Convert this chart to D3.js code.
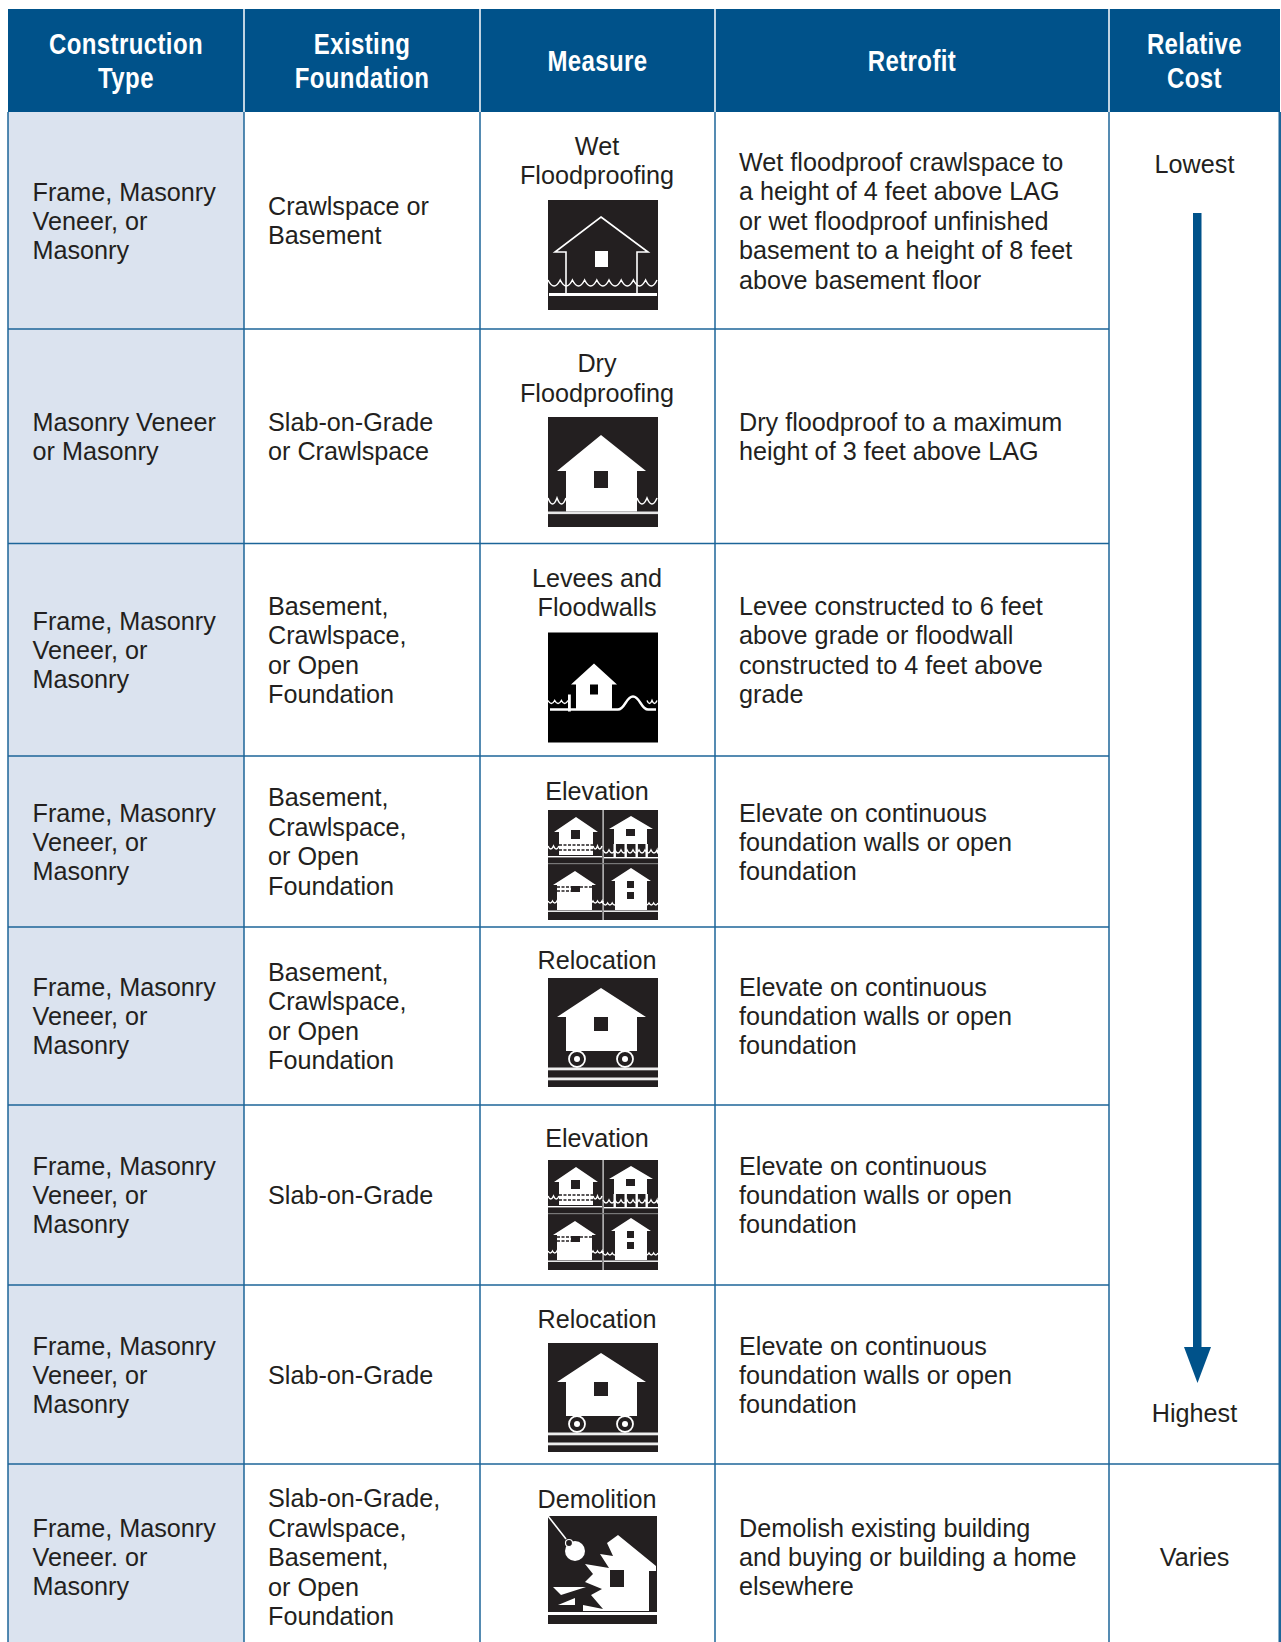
<!DOCTYPE html>
<html>
<head>
<meta charset="utf-8">
<script src="https://d3js.org/d3.v7.min.js"></script>
<style>
html, body { margin: 0; padding: 0; background: #fff; overflow: hidden; }
svg { display: block; }
text { font-family: "Liberation Sans", Arial, sans-serif; font-size: 25.2px; fill: #231f20; }
.head { font-weight: bold; font-size: 30px; fill: #fff; letter-spacing: 0.5px; }
</style>
</head>
<body>
<div id="chart"></div>
<script>
// table content
var headers = [["Construction", "Type"], ["Existing", "Foundation"], ["Measure"], ["Retrofit"], ["Relative", "Cost"]]

var constructionType = [
    ["Frame, Masonry", "Veneer, or", "Masonry"],
    ["Masonry Veneer", "or Masonry"],
    ["Frame, Masonry", "Veneer, or", "Masonry"],
    ["Frame, Masonry", "Veneer, or", "Masonry"],
    ["Frame, Masonry", "Veneer, or", "Masonry"],
    ["Frame, Masonry", "Veneer, or", "Masonry"],
    ["Frame, Masonry", "Veneer, or", "Masonry"],
    ["Frame, Masonry", "Veneer. or", "Masonry"]
]
var foundation = [
    ["Crawlspace or", "Basement"],
    ["Slab-on-Grade", "or Crawlspace"],
    ["Basement,", "Crawlspace,", "or Open", "Foundation"],
    ["Basement,", "Crawlspace,", "or Open", "Foundation"],
    ["Basement,", "Crawlspace,", "or Open", "Foundation"],
    ["Slab-on-Grade"],
    ["Slab-on-Grade"],
    ["Slab-on-Grade,", "Crawlspace,", "Basement,", "or Open", "Foundation"]
]
var measure = [
    ["Wet", "Floodproofing"],
    ["Dry", "Floodproofing"],
    ["Levees and", "Floodwalls"],
    ["Elevation"],
    ["Relocation"],
    ["Elevation"],
    ["Relocation"],
    ["Demolition"]
]
var icons = ["wet", "dry", "levee", "elevation", "relocation", "elevation", "relocation", "demolition"]
var retrofit = [
    ["Wet floodproof crawlspace to", "a height of 4 feet above LAG", "or wet floodproof unfinished", "basement to a height of 8 feet", "above basement floor"],
    ["Dry floodproof to a maximum", "height of 3 feet above LAG"],
    ["Levee constructed to 6 feet", "above grade or floodwall", "constructed to 4 feet above", "grade"],
    ["Elevate on continuous", "foundation walls or open", "foundation"],
    ["Elevate on continuous", "foundation walls or open", "foundation"],
    ["Elevate on continuous", "foundation walls or open", "foundation"],
    ["Elevate on continuous", "foundation walls or open", "foundation"],
    ["Demolish existing building", "and buying or building a home", "elsewhere"]
]

// layout of the table
var width = 1281
var height = 1642
var colEdges = [8, 244, 480, 715, 1109, 1280]
var rowEdges = [112, 329, 543.5, 756, 927, 1105, 1285, 1464, 1660]
var iconTops = [200, 417, 632.5, 810, 978, 1160, 1343, 1516]
var labelBottoms = [175, 392.5, 607, 790.5, 960, 1138, 1319, 1498.5]
var lineHeight = 29.5

var blue = "#00528a"
var rule = "#1c6599"
var ink = "#231f20"

var x = d3.scaleOrdinal().domain(d3.range(colEdges.length)).range(colEdges)
var y = d3.scaleOrdinal().domain(d3.range(rowEdges.length)).range(rowEdges)

var svg = d3.select("#chart").append("svg")
    .attr("width", width)
    .attr("height", height)

// header band and first column shading
svg.append("rect").attr("x", x(0)).attr("y", 9).attr("width", x(5) - x(0)).attr("height", y(0) - 9).attr("fill", blue)
svg.append("rect").attr("x", x(0)).attr("y", y(0)).attr("width", x(1) - x(0)).attr("height", height - y(0)).attr("fill", "#dbe3ef")

// header dividers
svg.selectAll(".headRule").data([1, 2, 3, 4]).enter().append("line")
    .attr("x1", d => x(d)).attr("x2", d => x(d))
    .attr("y1", 9).attr("y2", y(0))
    .attr("stroke", "#fff").attr("stroke-width", 1.5)

// body rules
svg.selectAll(".colRule").data([0, 1, 2, 3, 4, 5]).enter().append("line")
    .attr("x1", d => x(d)).attr("x2", d => x(d))
    .attr("y1", y(0)).attr("y2", height)
    .attr("stroke", rule)
    .attr("stroke-width", d => (d == 5 ? 3 : 1.5))
svg.selectAll(".rowRule").data(d3.range(1, 8)).enter().append("line")
    .attr("x1", x(0))
    .attr("x2", d => (d == 7 ? x(5) : x(4)))
    .attr("y1", d => y(d)).attr("y2", d => y(d))
    .attr("stroke", rule).attr("stroke-width", 1.5)

// draw a few lines of text centered on cy
function block(lines, tx, cy, anchor) {
    // three line cells are set a touch tighter in the original
    var lh = lines.length == 3 ? 29 : lineHeight
    var t = svg.append("text").attr("text-anchor", anchor)
    lines.forEach(function(l, i) {
        t.append("tspan")
            .attr("x", tx)
            .attr("y", cy + (i - (lines.length - 1) / 2) * lh)
            .attr("dy", "0.36em")
            .text(l)
    })
}

// the header face is condensed, so squeeze each line sideways
function headBlock(lines, tx, cy) {
    lines.forEach(function(l, i) {
        svg.append("text")
            .attr("class", "head")
            .attr("text-anchor", "middle")
            .attr("dy", "0.36em")
            .attr("transform", "translate(" + tx + "," + (cy + (i - (lines.length - 1) / 2) * 33.5) + ") scale(0.8,1)")
            .text(l)
    })
}

headers.forEach(function(h, i) {
    headBlock(h, (x(i) + x(i + 1)) / 2, 60)
})

d3.range(8).forEach(function(i) {
    var cy = (y(i) + y(i + 1)) / 2
    if (i == 7) cy = 1557
    block(constructionType[i], 32.5, cy + 0.4, "start")
    block(foundation[i], 268, cy, "start")
    block(retrofit[i], 739, cy + 0.4, "start")
    // measure label sits right above its icon
    block(measure[i], 597, labelBottoms[i] - (measure[i].length - 1) * lineHeight / 2, "middle")
    drawIcon(icons[i], svg.append("g").attr("transform", "translate(548," + iconTops[i] + ")"))
})

// relative cost column
block(["Lowest"], 1194.5, 163.5, "middle")
block(["Highest"], 1194.5, 1412.5, "middle")
block(["Varies"], 1194.5, 1556.5, "middle")

svg.append("rect").attr("x", 1193).attr("y", 213).attr("width", 8.5).attr("height", 1140).attr("fill", blue)
svg.append("path").attr("d", "M1184,1347L1211,1347L1197.5,1383Z").attr("fill", blue)

// ---- icons, 110 units square, white on black ----
function waves(x0, x1, yTop, dep, period) {
    var p = d3.path()
    p.moveTo(x0, yTop)
    for (var a = x0; a < x1 - 0.1; a += period) {
        var b = Math.min(a + period, x1)
        p.quadraticCurveTo((a + b) / 2, yTop + dep * 2, b, yTop)
    }
    return p.toString()
}

function waveLine(g, x0, x1, yTop, dep, period, sw) {
    g.append("path").attr("d", waves(x0, x1, yTop, dep, period))
        .attr("fill", "none").attr("stroke", "#fff").attr("stroke-width", sw || 1.5)
}

function poly(g, pts, fill) {
    return g.append("path").attr("d", d3.line()(pts) + "Z").attr("fill", fill || "#fff")
}

function box(g, bx, by, w, h, fill) {
    g.append("rect").attr("x", bx).attr("y", by).attr("width", w).attr("height", h).attr("fill", fill || "#fff")
}

function house(apex, eaveL, eaveR, wallL, wallR, eaveY, bottom) {
    return [[apex[0], apex[1]], [eaveR, eaveY], [wallR, eaveY], [wallR, bottom], [wallL, bottom], [wallL, eaveY], [eaveL, eaveY]]
}

function drawIcon(name, g) {
    if (name == "wet") {
        box(g, 0, 0, 110, 110, ink)
        g.append("path").attr("d", d3.line()(house([53, 17], 7, 100, 18, 89, 52, 94)) + "Z")
            .attr("fill", "none").attr("stroke", "#fff").attr("stroke-width", 1.6)
        box(g, 47, 51, 13, 16)
        waveLine(g, 0, 109, 80, 6, 12.2)
        box(g, 1, 93, 108, 3)
    }
    if (name == "dry") {
        box(g, 0, 0, 110, 110, ink)
        poly(g, house([53, 18], 9, 98, 18, 89, 54, 94.5))
        box(g, 46, 54, 14, 17, ink)
        waveLine(g, 0, 18, 81, 6, 9)
        waveLine(g, 89, 109, 81, 6, 10)
        box(g, 0, 94.5, 110, 2.6, "#e6e6e6")
    }
    if (name == "levee") {
        box(g, 0, 0, 110, 110, "#000")
        poly(g, house([46, 31], 23, 69, 28, 64, 52, 77))
        box(g, 42, 52, 8, 10, "#000")
        waveLine(g, 0, 20, 68, 3, 6.7)
        waveLine(g, 99, 109, 68, 3, 5)
        g.append("path").attr("d", "M2,77L70,77C77,77,78,64,85,64C92,64,93,77,100,77L108,77")
            .attr("fill", "none").attr("stroke", "#fff").attr("stroke-width", 2.4)
        box(g, 20, 62, 2.8, 17)
    }
    if (name == "elevation") {
        box(g, 0, 0, 110, 110, ink)
        box(g, 54.5, 0, 1.2, 110, "#e6e6e6")
        box(g, 0, 53, 110, 1.2, "#777")
        // top left, raised on solid wall with vents
        poly(g, house([28, 7], 6, 50, 11, 45, 22, 45))
        box(g, 23, 20, 9, 9, ink)
        g.append("path").attr("d", "M11,35H45M11,40H45").attr("stroke", ink).attr("stroke-width", 1.3).attr("stroke-dasharray", "3,1.5")
        waveLine(g, 0, 11, 36, 3, 5.5)
        waveLine(g, 45, 54, 36, 3, 4.5)
        box(g, 0, 46, 54, 1.4)
        // top right, on posts
        poly(g, house([83, 6], 61, 105, 66, 99, 19, 34))
        box(g, 78, 19, 9, 7, ink)
        ;[65.5, 76.5, 87.5, 97.5].forEach(function(px) { box(g, px, 34, 2.4, 13) })
        waveLine(g, 55, 110, 40, 3, 6)
        box(g, 56, 47, 54, 1.4)
        // bottom left, second floor only
        poly(g, house([27, 61], 5, 48, 9, 44, 75, 100))
        box(g, 23, 76, 9, 6, ink)
        g.append("path").attr("d", "M9,77H23M9,81H23M32,77H44").attr("stroke", ink).attr("stroke-width", 1.3).attr("stroke-dasharray", "3,1.5")
        waveLine(g, 0, 55, 91, 2, 4.5)
        box(g, 0, 100.5, 54, 1.4)
        // bottom right, two stories
        poly(g, house([83, 58], 63, 103, 67, 99, 71, 100))
        box(g, 79, 71, 7, 7, ink)
        box(g, 79, 82, 7, 7, ink)
        waveLine(g, 55, 110, 93, 2, 4.6)
        box(g, 56, 100.5, 54, 1.4)
    }
    if (name == "relocation") {
        box(g, 0, 0, 110, 109, ink)
        poly(g, house([53, 10], 9, 98, 18, 89, 39, 73))
        box(g, 46, 39, 14, 14, ink)
        ;[29, 77].forEach(function(cx) {
            g.append("circle").attr("cx", cx).attr("cy", 81).attr("r", 8).attr("fill", ink).attr("stroke", "#fff").attr("stroke-width", 1.8)
            g.append("circle").attr("cx", cx).attr("cy", 81).attr("r", 3).attr("fill", "#fff")
        })
        box(g, 0, 89.5, 110, 2.8, "#eee")
        box(g, 0, 99.5, 110, 2.8, "#eee")
    }
    if (name == "demolition") {
        box(g, 0, 0, 109, 108, ink)
        g.append("path").attr("d", "M0,0L18,23").attr("stroke", "#fff").attr("stroke-width", 1.6)
        g.append("circle").attr("cx", 27).attr("cy", 35).attr("r", 10).attr("fill", "#fff")
        g.append("circle").attr("cx", 21).attr("cy", 27).attr("r", 3.5).attr("fill", ink).attr("stroke", "#fff").attr("stroke-width", 1.2)
        poly(g, [[70, 19], [108, 50], [108, 55], [101, 55], [101, 95], [35, 95], [35, 89], [55, 93], [43, 79], [54, 73], [37, 66], [45, 58], [37, 48], [61, 52], [52, 38], [65, 40], [59, 27]])
        box(g, 62, 54, 14, 17, ink)
        poly(g, [[5, 71], [38, 71], [13, 79]])
        poly(g, [[10, 89], [27, 82], [27, 89]])
        box(g, 0, 96, 109, 3)
    }
}
</script>
</body>
</html>
